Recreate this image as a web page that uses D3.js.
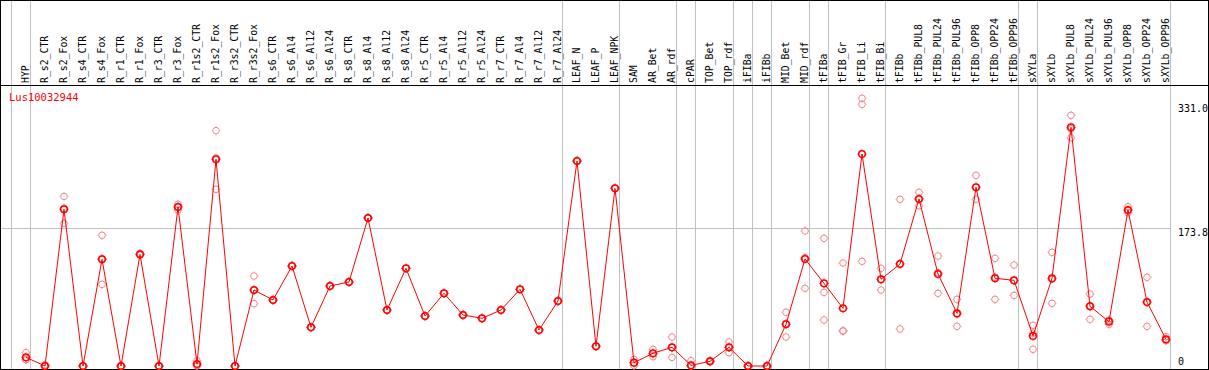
<!DOCTYPE html>
<html><head><meta charset="utf-8">
<script src="https://cdn.jsdelivr.net/npm/d3@7/dist/d3.min.js"></script>
<style>
html,body{margin:0;padding:0;background:#fff;}
svg{display:block;}
text{font-family:"DejaVu Sans Mono",monospace;}
</style></head>
<body>
<svg id="chart" width="1209" height="370"></svg>
<script>
const title = "Lus10032944";
const categories = ["HYP","R_s2_CTR","R_s2_Fox","R_s4_CTR","R_s4_Fox","R_r1_CTR","R_r1_Fox","R_r3_CTR","R_r3_Fox","R_r1s2_CTR","R_r1s2_Fox","R_r3s2_CTR","R_r3s2_Fox","R_s6_CTR","R_s6_Al4","R_s6_Al12","R_s6_Al24","R_s8_CTR","R_s8_Al4","R_s8_Al12","R_s8_Al24","R_r5_CTR","R_r5_Al4","R_r5_Al12","R_r5_Al24","R_r7_CTR","R_r7_Al4","R_r7_Al12","R_r7_Al24","LEAF_N","LEAF_P","LEAF_NPK","SAM","AR_Bet","AR_rdf","cPAR","TOP_Bet","TOP_rdf","iFIBa","iFIBb","MID_Bet","MID_rdf","tFIBa","tFIB_Gr","tFIB_Li","tFIB_Bi","tFIBb","tFIBb_PUL8","tFIBb_PUL24","tFIBb_PUL96","tFIBb_OPP8","tFIBb_OPP24","tFIBb_OPP96","sXYLa","sXYLb","sXYLb_PUL8","sXYLb_PUL24","sXYLb_PUL96","sXYLb_OPP8","sXYLb_OPP24","sXYLb_OPP96"];
const means = [10.9,0,197.2,0,134.2,0,140.5,0,200.1,2.5,260.1,0,95.6,83.1,125.8,48.7,100.7,105.7,186.3,70.5,122.9,62.9,91.5,64.2,60.0,70.5,96.5,45.3,81.8,258.0,24.8,223.6,4.2,16.0,23.5,0.8,5.9,23.5,0,0,52.5,134.7,104.0,72.6,266.8,109.1,128.4,210.2,115.8,66.3,224.9,110.4,107.8,37.8,110.4,300.4,75.1,55.8,196.3,80.5,33.6];
const rep1 = [16.8,1.5,213.5,0,164.5,0,141.5,0,203.5,6.7,296.2,0,113.3,83.1,125.8,48.7,100.7,105.7,186.3,70.5,122.9,62.9,91.5,64.2,60.0,70.5,96.5,45.3,81.8,258.0,24.8,223.6,8.4,21.0,36.5,6.7,6.7,30.2,0,0,67.6,169.9,160.7,129.6,336.9,122.9,209.8,218.6,138.4,83.9,240.0,135.5,127.1,51.2,143.1,315.5,90.6,57.9,200.5,111.6,36.9];
const rep2 = [8.0,0,179.6,0,102.8,0,139.5,0,196.3,0.5,222.4,0,78.4,83.1,125.8,48.7,100.7,105.7,186.3,70.5,122.9,62.9,91.5,64.2,60.0,70.5,96.5,45.3,81.8,258.0,24.8,223.6,0.5,11.7,10.9,0,5.0,16.8,0,0,36.5,97.8,92.7,44.4,329.3,95.6,46.6,201.7,91.5,49.9,209.8,83.9,88.9,21.0,78.9,287.3,58.8,52.5,192.9,49.9,32.0];
const rep3 = [7.9,0,198.5,0,135.3,0,140.5,0,200.5,0.3,261.7,0,95.1,83.1,125.8,48.7,100.7,105.7,186.3,70.5,122.9,62.9,91.5,64.2,60.0,70.5,96.5,45.3,81.8,258.0,24.8,223.6,3.7,15.3,23.1,0,6.0,23.5,0,0,53.4,136.4,57.9,43.8,131.8,108.8,128.8,210.3,117.5,65.1,224.9,111.8,107.4,41.2,109.2,298.4,75.9,57.0,195.5,80.0,32.0];
const groupEnds = ["HYP","R_r7_Al24","LEAF_NPK","AR_rdf","cPAR","TOP_rdf","iFIBa","iFIBb","MID_rdf","tFIBa","tFIB_Bi","tFIBb_OPP96","sXYLa","sXYLb_OPP96"];
const tickValues = [0, 173.8, 331.0];
const tickLabels = ["0", "173.8", "331.0"];
const gridValues = [173.8];

const W = 1209, H = 370, headerY = 85;
const svg = d3.select("#chart");
const x = d3.scalePoint().domain(categories).range([26, 1166]);
const y = d3.scaleLinear().domain([0, 331]).range([366, 103]);
const step = x.step();

// vertical separators
const sepX = [x(categories[0]) - step + 4.5].concat(groupEnds.map(c => Math.round(x(c)) + 4.5));
svg.append("g").selectAll("line").data(sepX).join("line")
  .attr("x1", d => d).attr("x2", d => d).attr("y1", 0).attr("y2", H)
  .attr("stroke", "#c0c0c0").attr("stroke-width", 1).attr("shape-rendering", "crispEdges");

// horizontal grid
svg.append("g").selectAll("line").data(gridValues).join("line")
  .attr("x1", 0).attr("x2", 1170.5)
  .attr("y1", d => Math.round(y(d)) + 0.5).attr("y2", d => Math.round(y(d)) + 0.5)
  .attr("stroke", "#c0c0c0").attr("stroke-width", 1).attr("shape-rendering", "crispEdges");

// frame
svg.append("rect").attr("x", 0.5).attr("y", 0.5).attr("width", W - 1.5).attr("height", H - 1.5)
  .attr("fill", "none").attr("stroke", "#000").attr("stroke-width", 1).attr("shape-rendering", "crispEdges");
svg.append("line").attr("x1", 0).attr("x2", W).attr("y1", headerY + 0.5).attr("y2", headerY + 0.5)
  .attr("stroke", "#000").attr("stroke-width", 1).attr("shape-rendering", "crispEdges");

// header labels
svg.append("g").selectAll("text").data(categories).join("text")
  .attr("transform", d => `translate(${x(d)},${headerY - 2}) rotate(-90)`)
  .attr("dy", "0.35em").attr("text-anchor", "start")
  .attr("font-size", "9.8px").attr("fill", "#000").text(d => d);

// title
svg.append("text").attr("x", 9).attr("y", 101).attr("font-size", "10.5px").attr("fill", "#ff0000").text(title);

// right axis labels
const axisG = svg.append("g");
tickValues.forEach((v, i) => {
  const t = axisG.append("text").attr("x", 1178).attr("font-size", "10px").attr("fill", "#000").text(tickLabels[i]);
  if (v === 0) t.attr("y", y(v) - 1);
  else t.attr("y", y(v) + 8.5);
});

function marker(g, cx, cy, color, r, sw) {
  g.append("circle").attr("cx", cx).attr("cy", cy).attr("r", r)
    .attr("fill", "none").attr("stroke", color).attr("stroke-width", sw);
  const t = r + sw / 2 + 0.7;
  [[0, -1], [0, 1], [-1, 0], [1, 0]].forEach(([dx, dy]) => {
    g.append("line")
      .attr("x1", cx + dx * (r + sw / 2 - 0.3)).attr("y1", cy + dy * (r + sw / 2 - 0.3))
      .attr("x2", cx + dx * t).attr("y2", cy + dy * t)
      .attr("stroke", color).attr("stroke-width", 0.8);
  });
}

// replicates
const repG = svg.append("g");
[rep1, rep2, rep3].forEach(arr => {
  arr.forEach((v, i) => marker(repG, x(categories[i]), y(v), "#f08a8a", 3.3, 1));
});

// mean line
const line = d3.line().x((d, i) => x(categories[i])).y(d => y(d));
svg.append("path").datum(means).attr("d", line)
  .attr("fill", "none").attr("stroke", "#ff0000").attr("stroke-width", 1);

// mean markers
const meanG = svg.append("g");
means.forEach((v, i) => marker(meanG, x(categories[i]), y(v), "#ff0000", 3.3, 1.5));
</script>
</body></html>
